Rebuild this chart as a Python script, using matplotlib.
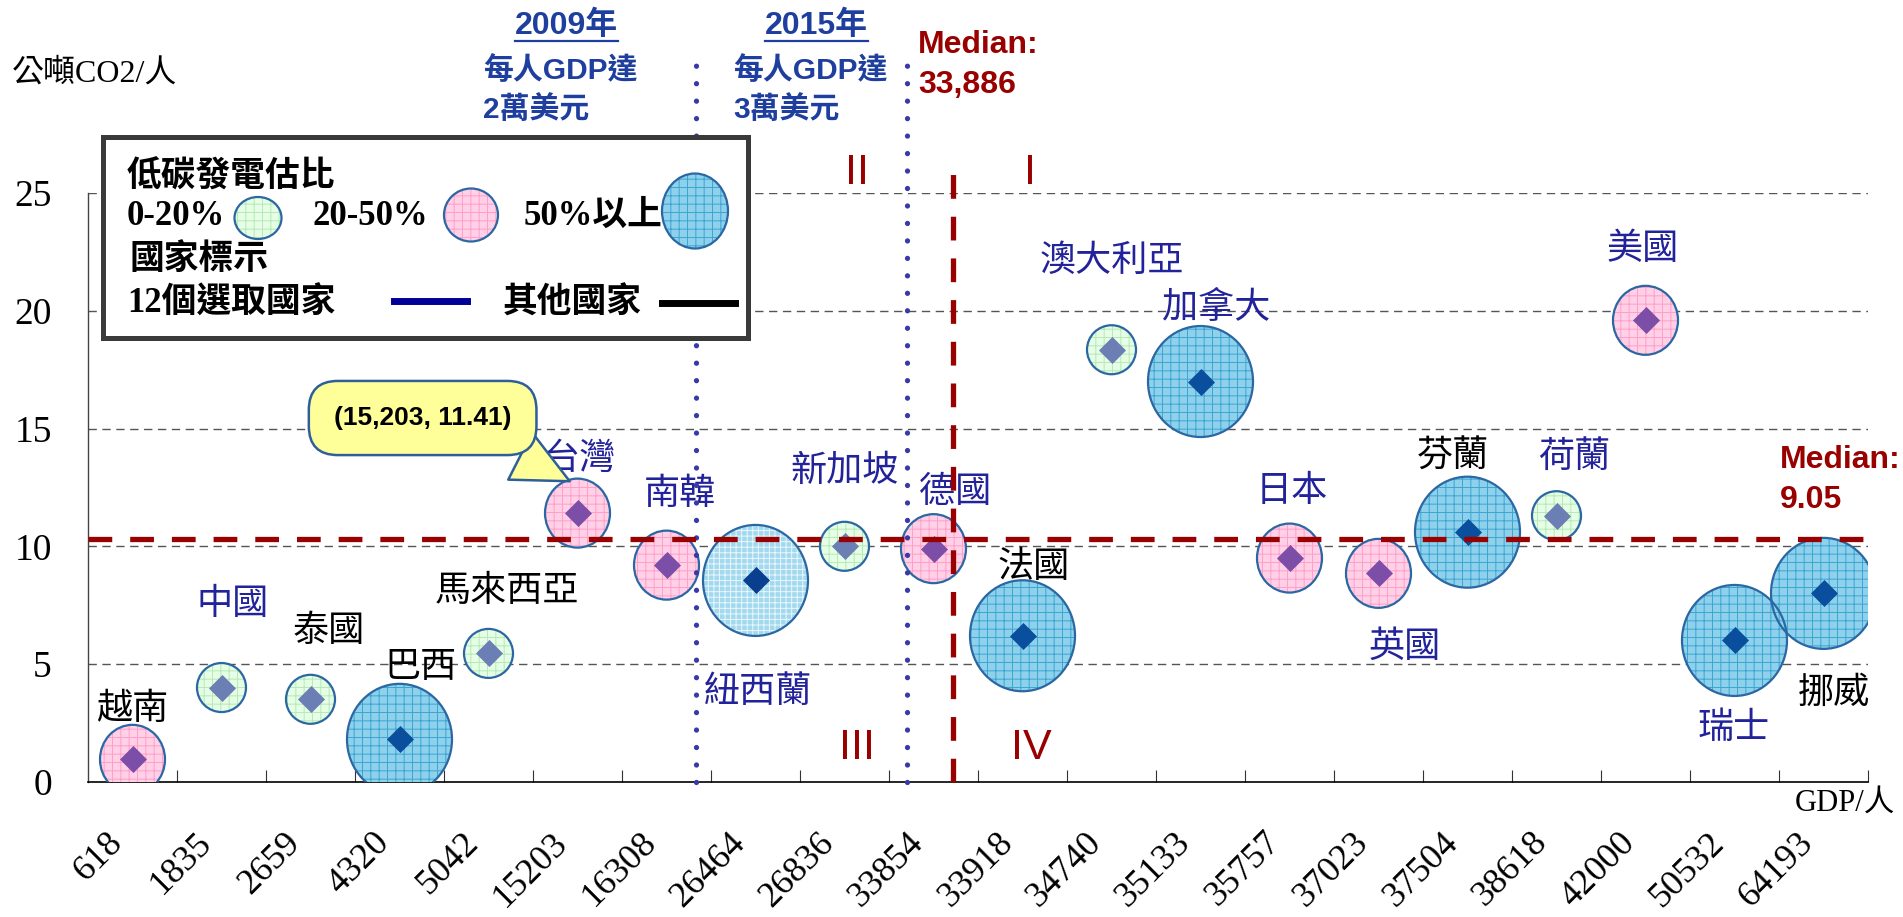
import matplotlib
matplotlib.use('Agg')
import matplotlib.pyplot as plt
from matplotlib.patches import Ellipse, Rectangle
from matplotlib.transforms import ScaledTranslation

# ---- data ----
gdp = [618, 1835, 2659, 4320, 5042, 15203, 16308, 26464, 26836, 33854,
       33918, 34740, 35133, 35757, 37023, 37504, 38618, 42000, 50532, 64193]
countries = ['越南', '中國', '泰國', '巴西', '馬來西亞', '台灣', '南韓', '紐西蘭', '新加坡', '德國',
             '法國', '澳大利亞', '加拿大', '日本', '英國', '芬蘭', '荷蘭', '美國', '瑞士', '挪威']
co2 = [0.95, 4.0, 3.5, 1.8, 5.45, 11.41, 9.2, 8.55, 10.0, 9.9,
       6.2, 18.35, 17.0, 9.5, 8.85, 10.6, 11.3, 19.6, 6.0, 8.0]
low_carbon = ['20-50', '0-20', '0-20', '50+', '0-20', '20-50', '20-50', '50+', '0-20', '20-50',
              '50+', '0-20', '50+', '20-50', '20-50', '50+', '0-20', '20-50', '50+', '50+']
selected = [False, True, False, False, False, True, True, True, True, True,
            False, True, True, True, True, False, True, True, True, False]
gdp_median = 33886
co2_median = 9.05

# ---- layout (pixels of the 1903x917 canvas) ----
W, H = 1903, 917
ax_left, ax_right, ax_zero, ax_top = 88, 1868, 781.7, 193.2
label_pos = [(0.0, 3.05), (1.12, 7.54), (2.2, 6.4), (3.24, 4.85), (4.21, 8.1),
             (5.02, 13.7), (6.15, 12.2), (7.03, 3.8), (8.0, 13.2), (9.24, 12.3),
             (10.13, 9.1), (11.0, 22.1), (12.18, 20.1), (13.02, 12.33), (14.3, 5.7),
             (14.84, 13.77), (16.2, 13.77), (16.97, 22.6), (17.99, 2.28), (19.12, 3.77)]
median_line_y = 10.3     # where the horizontal median line is drawn
median_line_x = 9.22
line_2009_x, line_2015_x = 6.33, 8.70

bubble_px = {'0-20': (49, 49), '20-50': (65, 69), '50+': (105, 111)}
styles = {
    '0-20': dict(face='#e6fde6', grid='#b5eab5', dia='#6c7fb4', hatch='++'),
    '20-50': dict(face='#ffd0e6', grid='#ff9fca', dia='#7d4ea8', hatch='++'),
    '50+': dict(face='#8fd1ea', grid='#3aa5d5', dia='#0a4e9e', hatch='++'),
}
# 紐西蘭 uses a finer, lighter texture in the original
style_override = {'紐西蘭': dict(face='#a3d9ef', grid='#eaf7fc', dia='#0a3f8f', hatch='+++')}
edge_col = '#2b67a2'
dark_red = '#990000'
blue_txt = '#1f3f9f'
navy_txt = '#22229a'

plt.rcParams['hatch.linewidth'] = 0.7
serif_cjk = ['Liberation Serif', 'Noto Sans CJK TC']
sans_cjk = ['Liberation Sans', 'Noto Sans CJK TC']


def fx(px):
    return px / W


def fy(py):
    return 1 - py / H


fig = plt.figure(figsize=(W / 100, H / 100), dpi=100)
ax = fig.add_axes([fx(ax_left), fy(ax_zero), (ax_right - ax_left) / W, (ax_zero - ax_top) / H])
n = len(gdp)
ax.set_xlim(-0.5, n - 0.5)
ax.set_ylim(0, 25)
ux = (ax_right - ax_left) / n
uy = (ax_zero - ax_top) / 25

for s in ['top', 'right']:
    ax.spines[s].set_visible(False)
ax.spines['left'].set_color('#444444')
ax.spines['left'].set_linewidth(1.0)
ax.spines['bottom'].set_linewidth(1.2)

ax.set_yticks([0, 5, 10, 15, 20, 25])
ax.set_yticklabels(['0', '5', '10', '15', '20', '25'], family='Liberation Serif', fontsize=27)
ax.tick_params(axis='y', length=0, pad=26)
ax.set_xticks(range(n))
ax.tick_params(axis='x', which='major', length=0, labelbottom=False)
ax.set_xticks([i + 0.5 for i in range(n)], minor=True)
ax.tick_params(axis='x', which='minor', direction='in', length=8.5, width=0.8, color='#333333')

# rotated GDP labels, nudged a little left of the category centre like the original
lab_trans = ax.get_xaxis_transform() + ScaledTranslation(-15 / 100, -56 / 100, fig.dpi_scale_trans)
for i, g in enumerate(gdp):
    ax.text(i, 0, str(g), transform=lab_trans, rotation=45, ha='right', va='center',
            rotation_mode='anchor', fontsize=26, family='Liberation Serif', clip_on=False)

ax.hlines([5, 10, 15, 20, 25], -0.5, n - 0.5, colors='#555555', lw=1.0,
          linestyles=(0, (6, 4)), zorder=1)

# dotted year lines
for xv in [line_2009_x, line_2015_x]:
    ax.plot([xv, xv], [0, 30.95], color='#3a3aa6', lw=3.8, ls=(0, (0.01, 3.3)),
            dash_capstyle='round', clip_on=False, zorder=4)

# bubbles
for i, (y, cat) in enumerate(zip(co2, low_carbon)):
    st = style_override.get(countries[i], styles[cat])
    w, h = bubble_px[cat]
    ax.add_patch(Ellipse((i, y), w / ux, h / uy, facecolor=st['face'], edgecolor=st['grid'],
                         hatch=st['hatch'], lw=0, zorder=3))
    ax.add_patch(Ellipse((i, y), w / ux, h / uy, facecolor='none', edgecolor=edge_col,
                         lw=1.6, zorder=3.2))
    ax.scatter([i], [y], marker='D', s=190, color=st['dia'], zorder=5, linewidths=0)

# country names
for i, name in enumerate(countries):
    lx, ly = label_pos[i]
    ax.text(lx, ly, name, ha='center', va='center', fontsize=26,
            color=navy_txt if selected[i] else 'black', family=sans_cjk, zorder=2.5)

# median lines
ax.plot([-0.5, n - 0.5], [median_line_y, median_line_y], color=dark_red, lw=3.8,
        ls=(0, (4.5, 3.4)), zorder=6, clip_on=False)
ax.plot([median_line_x, median_line_x], [0, 26.0], color=dark_red, lw=3.8,
        ls=(0, (4.5, 3.4)), zorder=6, clip_on=False)

# quadrant numerals
for txt, xv, yv in [('II', 8.14, 25), ('I', 10.08, 25), ('III', 8.14, 0.58), ('IV', 10.1, 0.58)]:
    ax.text(xv, yv, txt, ha='center', va='bottom', fontsize=31, color=dark_red,
            family='Liberation Sans', zorder=6)

# callout for Taiwan
tw = countries.index('台灣')
ax.annotate(f'({gdp[tw]:,}, {co2[tw]})', xy=(tw - 0.06, co2[tw] + 1.3), xytext=(3.26, 15.45),
            ha='center', va='center', fontsize=19, fontweight='bold', family='Liberation Sans',
            bbox=dict(boxstyle='round,pad=0.95,rounding_size=1.1', fc='#ffff99', ec='#2f5f9a', lw=1.8),
            arrowprops=dict(arrowstyle='wedge,tail_width=2.0,shrink_factor=0.5', fc='#ffff99',
                            ec='#2f5f9a', lw=1.8, relpos=(0.76, 0.0)),
            zorder=7)

# axis titles
fig.text(fx(12), fy(74), '公噸CO2/人', ha='left', va='center', fontsize=23, family=serif_cjk)
fig.text(fx(1795), fy(803), 'GDP/人', ha='left', va='center', fontsize=22, family=serif_cjk)

# median labels
red_bold = dict(ha='left', va='center', fontsize=23, fontweight='bold', color=dark_red,
                family='Liberation Sans')
fig.text(fx(918), fy(45), 'Median:', **red_bold)
fig.text(fx(918), fy(85), f'{gdp_median:,}', **red_bold)
fig.text(fx(1780), fy(460), 'Median:', **red_bold)
fig.text(fx(1780), fy(500), f'{co2_median}', **red_bold)

# year notes
for x0, yr, amt in [(483, '2009年', '2萬美元'), (733, '2015年', '3萬美元')]:
    fig.text(fx(x0 + 32), fy(26), yr, ha='left', va='center', fontsize=23,
             fontweight='bold', color=blue_txt, family=sans_cjk)
    fig.add_artist(plt.Line2D([fx(x0 + 32), fx(x0 + 135)], [fy(41), fy(41)],
                              color=blue_txt, lw=1.6))
    fig.text(fx(x0), fy(71), '每人GDP達', ha='left', va='center', fontsize=21.5,
             fontweight='bold', color=blue_txt, family=sans_cjk)
    fig.text(fx(x0), fy(110), amt, ha='left', va='center', fontsize=21.5,
             fontweight='bold', color=blue_txt, family=sans_cjk)

# ---- legend box ----
lw_, lh_ = 645, 201
leg = fig.add_axes([fx(103), fy(137 + lh_), lw_ / W, lh_ / H])
leg.set_xlim(0, lw_)
leg.set_ylim(lh_, 0)
leg.axis('off')
leg.add_patch(Rectangle((0, 0), lw_, lh_, facecolor='white', edgecolor='#3a3a3a', lw=3.6,
                        clip_on=False))
leg_font = dict(fontsize=25, fontweight='bold', family=serif_cjk, va='center', ha='left')
leg.text(24, 41, '低碳發電估比', **leg_font)
for txt, tx, cx, cy, cat in [('0-20%', 24, 155, 81, '0-20'), ('20-50%', 210, 368, 78, '20-50'),
                             ('50%以上', 421, 592, 74, '50+')]:
    leg.text(tx, 79, txt, **leg_font)
    w, h = {'0-20': (47, 42), '20-50': (54, 53), '50+': (66, 75)}[cat]
    st = styles[cat]
    leg.add_patch(Ellipse((cx, cy), w, h, facecolor=st['face'], edgecolor=st['grid'],
                          hatch=st['hatch'], lw=0))
    leg.add_patch(Ellipse((cx, cy), w, h, facecolor='none', edgecolor=edge_col, lw=1.6))
leg.text(27, 123, '國家標示', **leg_font)
leg.text(24, 167, '12個選取國家', **leg_font)
leg.plot([291, 364], [164, 164], color='#000099', lw=5)
leg.text(400, 167, '其他國家', **leg_font)
leg.plot([559, 632], [166, 166], color='black', lw=5)

fig.savefig('out.png', dpi=100)
